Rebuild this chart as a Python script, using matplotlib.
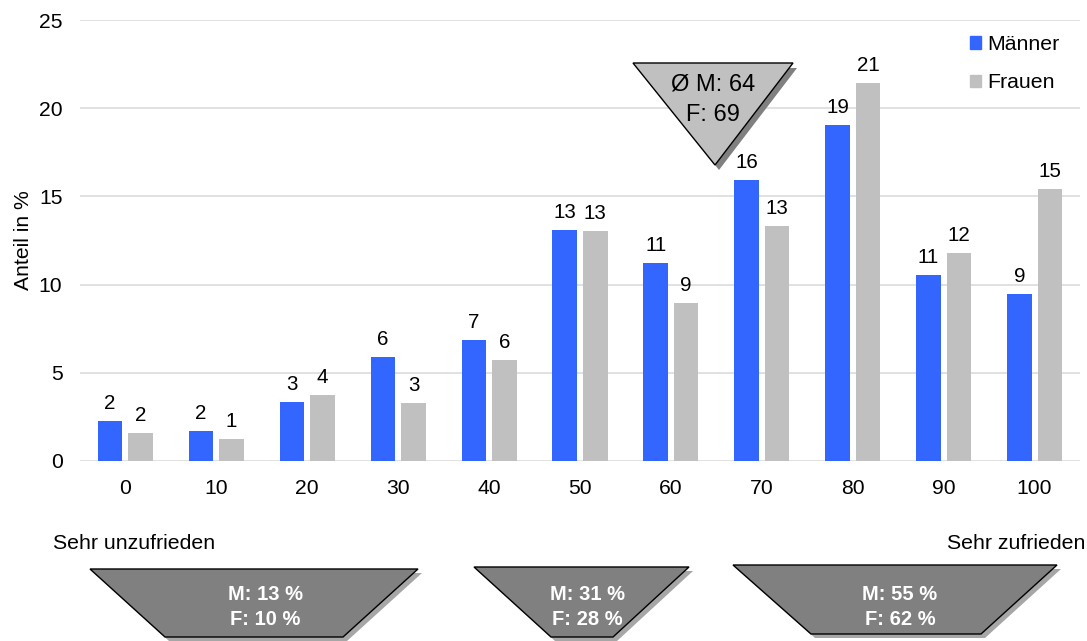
import numpy as np
import matplotlib
matplotlib.use("Agg")
import matplotlib.pyplot as plt
from matplotlib.patches import Polygon, Patch

plt.rcParams["font.family"] = ["Liberation Sans", "DejaVu Sans"]

# Zufriedenheitsskala und Anteile in %
categories = ["0", "10", "20", "30", "40", "50", "60", "70", "80", "90", "100"]
maenner = [2.27, 1.72, 3.35, 5.92, 6.88, 13.08, 11.22, 15.95, 19.03, 10.54, 9.47]
frauen = [1.59, 1.27, 3.72, 3.27, 5.71, 13.02, 8.96, 13.30, 21.41, 11.79, 15.42]
series_names = ["Männer", "Frauen"]
y_ticks = [0, 5, 10, 15, 20, 25]

# Mittelwerte und zusammengefasste Gruppen
mean_text = ["Ø M: 64", "F: 69"]
group_text = [["M: 13 %", "F: 10 %"], ["M: 31 %", "F: 28 %"], ["M: 55 %", "F: 62 %"]]
scale_ends = ["Sehr unzufrieden", "Sehr zufrieden"]

W, H = 1087, 641
fig = plt.figure(figsize=(W / 100, H / 100), dpi=100)


def fx(x):
    return x / W


def fy(y):
    return 1 - y / H


def pts(coords):
    return [(fx(x), fy(y)) for x, y in coords]


ax = fig.add_axes([fx(80), fy(461), fx(1080) - fx(80), fy(20) - fy(461)])

blue = "#3366ff"
grey = "#c0c0c0"
x = np.arange(len(categories))
w = 0.27
off = 0.168

b1 = ax.bar(x - off, maenner, w, color=blue, label=series_names[0], zorder=3)
b2 = ax.bar(x + off, frauen, w, color=grey, label=series_names[1], zorder=3)

for bars, vals in ((b1, maenner), (b2, frauen)):
    ax.bar_label(bars, labels=[f"{v:.0f}" for v in vals], padding=5.8,
                 fontsize=14.8, color="black")

ax.set_xlim(-0.5, len(categories) - 0.5)
ax.set_ylim(0, 25)
ax.set_yticks(y_ticks)
ax.set_xticks(x)
ax.set_xticklabels(categories)
ax.tick_params(axis="both", length=0, labelsize=15.2)
ax.tick_params(axis="x", pad=12.6)
ax.tick_params(axis="y", pad=12.6)
ax.yaxis.grid(True, color="#dcdcdc", linewidth=1.2, zorder=0)
ax.set_axisbelow(True)
for s in ax.spines.values():
    s.set_visible(False)
ax.set_ylabel("Anteil in %", fontsize=15.2)
ax.yaxis.set_label_coords(-0.047, 0.5)

handles = [Patch(color=blue), Patch(color=grey)]
fig.legend(handles, series_names, loc="upper left",
           bbox_to_anchor=(fx(970), fy(35)), frameon=False, fontsize=15.3,
           handlelength=0.5, handleheight=0.5, handletextpad=0.3,
           labelspacing=0.9, borderpad=0, borderaxespad=0)


def shape(coords, face, shadow, dx=4, dy=4):
    fig.patches.append(Polygon(pts([(a + dx, b + dy) for a, b in coords]),
                               closed=True, transform=fig.transFigure,
                               facecolor=shadow, edgecolor="none", zorder=5))
    fig.patches.append(Polygon(pts(coords), closed=True,
                               transform=fig.transFigure, facecolor=face,
                               edgecolor="black", linewidth=1.0, zorder=6))


# Mittelwert-Dreieck
shape([(633, 63), (793, 63), (715, 165)], "#c0c0c0", "#808080", dx=4, dy=5)
fig.text(fx(713), fy(90.5), mean_text[0], ha="center", va="baseline",
         fontsize=17, zorder=7)
fig.text(fx(713), fy(121), mean_text[1], ha="center", va="baseline",
         fontsize=17, zorder=7)

# Gruppen-Trapeze
trapezoids = [
    [(90, 569), (418, 569), (343, 637), (165, 637)],
    [(474, 567), (689, 567), (613, 637), (551, 637)],
    [(733, 565), (1057, 565), (981, 634), (811, 634)],
]
centers = [265, 587, 900]
for coords, cx, lines in zip(trapezoids, centers, group_text):
    shape(coords, "#808080", "#a6a6a6")
    fig.text(fx(cx), fy(600), lines[0], ha="center", va="baseline",
             fontsize=14.5, fontweight="bold", color="white", zorder=7)
    fig.text(fx(cx), fy(625), lines[1], ha="center", va="baseline",
             fontsize=14.5, fontweight="bold", color="white", zorder=7)

fig.text(fx(53), fy(549), scale_ends[0], ha="left", va="baseline", fontsize=15.3)
fig.text(fx(1085), fy(549), scale_ends[1], ha="right", va="baseline", fontsize=15.3)

fig.savefig("out.png", dpi=100)
